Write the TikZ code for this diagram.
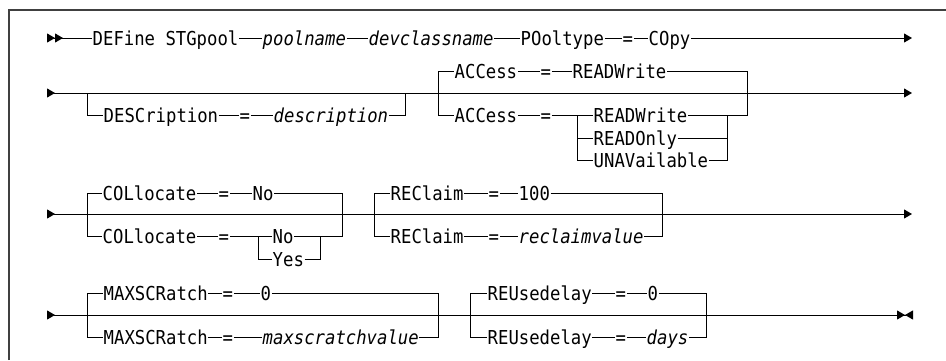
\documentclass[tikz,border=0pt]{standalone}
\usepackage{fontspec}
\usepackage{tikz}
\usetikzlibrary{arrows.meta}
\newfontfamily\railfont[FakeStretch=0.9]{DejaVu Sans Mono}
\newcommand{\railsize}{\fontsize{19.2}{22}\selectfont}

\begin{document}
\begin{tikzpicture}[x=1pt, y=-1pt,
  kw/.style={font=\railfont\railsize, inner xsep=0.5pt, inner ysep=0pt, text height=17pt, text depth=2pt, anchor=west},
  var/.style={kw, font=\railfont\railsize\itshape},
  rail/.style={line width=1pt},
  pageframe/.style={line width=1.4pt, draw=black!75},
  fwd/.tip={Triangle[length=8pt,width=9pt]},
  bwd/.tip={Triangle[reversed,length=8pt,width=9pt]}
]
\useasboundingbox (0,0) rectangle (946,360);
\draw[pageframe] (9,360) -- (9,10) -- (946,10);

% first line
\coordinate (r1s) at (47,38);
\coordinate (r1e) at (912,38);
\node[kw] (define) at (92,38) {DEFine STGpool};
\node[var] (poolnm) at (262,38) {poolname};
\node[var] (devcls) at (368,38) {devclassname};
\node[kw] (pooltyp) at (520,38) {POoltype};
\node[kw] (eqa) at (622,38) {=};
\node[kw] (copy) at (648,38) {COpy};
\draw[rail, {bwd[]bwd[]}-] (r1s) -- (define);
\draw[rail] (define) -- (poolnm) -- (devcls) -- (pooltyp) -- (eqa) -- (copy);
\draw[rail, -{fwd[]}] (copy) -- (r1e);

% second line
\coordinate (r2s) at (47,93);
\coordinate (r2e) at (912,93);
\draw[rail, {bwd[]}-{fwd[]}] (r2s) -- (r2e);
\coordinate (d1) at (87,93);
\coordinate (d2) at (405,93);
\node[kw] (desc) at (103,115) {DESCription};
\node[kw] (eqd) at (239,115) {=};
\node[var] (descv) at (273,115) {description};
\draw[rail] (d1) |- (desc) -- (eqd) -- (descv) -| (d2);
\coordinate (a1) at (438,93);
\coordinate (a2) at (747,93);
\node[kw] (acc1) at (454,71) {ACCess};
\node[kw] (eqac1) at (540,71) {=};
\node[kw] (rw1) at (572,71) {READWrite};
\draw[rail] (a1) |- (acc1) -- (eqac1) -- (rw1) -| (a2);
\node[kw] (acc2) at (454,115) {ACCess};
\node[kw] (eqac2) at (540,115) {=};
\coordinate (s1) at (577,115);
\coordinate (s2) at (727,115);
\node[kw] (rw2) at (593,115) {READWrite};
\node[kw] (ronly) at (593,138) {READOnly};
\node[kw] (unav) at (593,160) {UNAVailable};
\draw[rail] (a1) |- (acc2) -- (eqac2) -- (rw2) -| (a2);
\draw[rail] (s1) |- (ronly) -| (s2);
\draw[rail] (s1) |- (unav) -| (s2);

% third line
\coordinate (r3s) at (47,214);
\coordinate (r3e) at (912,214);
\draw[rail, {bwd[]}-{fwd[]}] (r3s) -- (r3e);
\coordinate (c1) at (87,214);
\coordinate (c2) at (342,214);
\node[kw] (col1) at (102,193) {COLlocate};
\node[kw] (eqc1) at (218,193) {=};
\node[kw] (colno1) at (252,193) {No};
\draw[rail] (c1) |- (col1) -- (eqc1) -- (colno1) -| (c2);
\node[kw] (col2) at (102,236) {COLlocate};
\node[kw] (eqc2) at (218,236) {=};
\coordinate (cs1) at (258,236);
\coordinate (cs2) at (320,236);
\node[kw] (colno2) at (272,236) {No};
\node[kw] (colyes) at (272,259) {Yes};
\draw[rail] (c1) |- (col2) -- (eqc2) -- (colno2) -| (c2);
\draw[rail] (cs1) |- (colyes) -| (cs2);
\coordinate (c3) at (374,214);
\coordinate (c4) at (662,214);
\node[kw] (recl1) at (390,193) {REClaim};
\node[kw] (eqr1) at (488,193) {=};
\node[kw] (rc100) at (518,193) {100};
\draw[rail] (c3) |- (recl1) -- (eqr1) -- (rc100) -| (c4);
\node[kw] (recl2) at (390,236) {REClaim};
\node[kw] (eqr2) at (488,236) {=};
\node[var] (rcval) at (518,236) {reclaimvalue};
\draw[rail] (c3) |- (recl2) -- (eqr2) -- (rcval) -| (c4);

% fourth line
\coordinate (r4s) at (47,315);
\coordinate (r4e) at (913,315);
\draw[rail, {bwd[]}-{fwd[]bwd[]}] (r4s) -- (r4e);
\coordinate (m1) at (87,315);
\coordinate (m2) at (438,315);
\node[kw] (mx1) at (103,293) {MAXSCRatch};
\node[kw] (eqm1) at (222,293) {=};
\node[kw] (mx0) at (260,293) {0};
\draw[rail] (m1) |- (mx1) -- (eqm1) -- (mx0) -| (m2);
\node[kw] (mx2) at (103,337) {MAXSCRatch};
\node[kw] (eqm2) at (222,337) {=};
\node[var] (mxval) at (262,337) {maxscratchvalue};
\draw[rail] (m1) |- (mx2) -- (eqm2) -- (mxval) -| (m2);
\coordinate (u1) at (470,315);
\coordinate (u2) at (706,315);
\node[kw] (ru1) at (487,293) {REUsedelay};
\node[kw] (equ1) at (615,293) {=};
\node[kw] (ru0) at (647,293) {0};
\draw[rail] (u1) |- (ru1) -- (equ1) -- (ru0) -| (u2);
\node[kw] (ru2) at (487,337) {REUsedelay};
\node[kw] (equ2) at (615,337) {=};
\node[var] (rudays) at (646,337) {days};
\draw[rail] (u1) |- (ru2) -- (equ2) -- (rudays) -| (u2);
\end{tikzpicture}
\end{document}
